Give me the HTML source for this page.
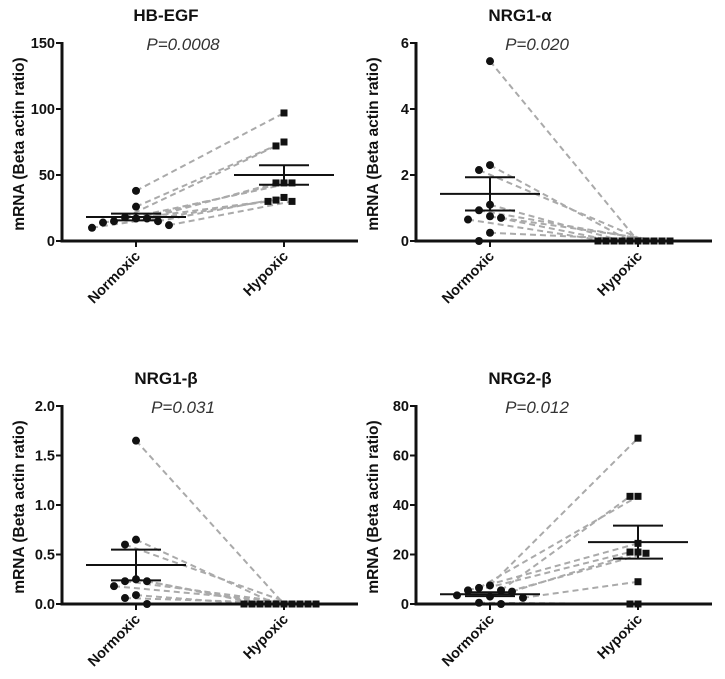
<!DOCTYPE html>
<html><head><meta charset="utf-8"><style>
html,body{margin:0;padding:0;background:#fff;width:725px;height:679px;overflow:hidden}
svg text{font-family:"Liberation Sans",sans-serif}
</style></head><body>
<svg id="c" width="725" height="679"></svg>
<script>
const categories = ["Normoxic","Hypoxic"];
const titles = ["HB-EGF","NRG1-α","NRG1-β","NRG2-β"];
const pvalues = ["P=0.0008","P=0.020","P=0.031","P=0.012"];
const normHBEGF = [38,26,17,15,14,18,15,17,10,12];
const hypoHBEGF = [97,75,72,44,44,44,31,30,30,33];
const normNRG1a = [5.45,2.3,2.15,1.1,0.93,0.7,0.65,0.75,0.25,0];
const hypoNRG1a = [0,0,0,0,0,0,0,0,0,0];
const normNRG1b = [1.65,0.65,0.6,0.25,0.23,0.23,0.18,0.09,0.06,0];
const hypoNRG1b = [0,0,0,0,0,0,0,0,0,0];
const normNRG2b = [6.5,5.5,5,5.5,7.5,3.5,3,2.5,0,0.5];
const hypoNRG2b = [67,43.5,43.5,24.5,21,20.5,21,9,0,0];
const ticksHBEGF = ["0","50","100","150"];
const ticksNRG1a = ["0","2","4","6"];
const ticksNRG1b = ["0.0","0.5","1.0","1.5","2.0"];
const ticksNRG2b = ["0","20","40","60","80"];

const NS="http://www.w3.org/2000/svg";
const svg=document.getElementById('c');
function mk(tag,attrs,parent){const e=document.createElementNS(NS,tag);for(const k in attrs)e.setAttribute(k,attrs[k]);(parent||svg).appendChild(e);return e;}

const panels=[
 {ox:0,oy:0,norm:normHBEGF,hypo:hypoHBEGF,ticks:ticksHBEGF},
 {ox:354,oy:0,norm:normNRG1a,hypo:hypoNRG1a,ticks:ticksNRG1a},
 {ox:0,oy:363,norm:normNRG1b,hypo:hypoNRG1b,ticks:ticksNRG1b},
 {ox:354,oy:363,norm:normNRG2b,hypo:hypoNRG2b,ticks:ticksNRG2b}
];

function swarm(vals,yf,d){
 const idx=vals.map((v,i)=>i).sort((a,b)=>vals[b]-vals[a]);
 const placed=[];const off=new Array(vals.length).fill(0);
 const cands=[0];for(let k=1;k<10;k++){cands.push(-k*d);cands.push(k*d);}
 idx.forEach(i=>{const y=yf(vals[i]);
  for(const c of cands){if(placed.every(p=>Math.abs(p.x-c)>=d-0.1||Math.abs(p.y-y)>=d-0.1)){off[i]=c;placed.push({x:c,y:y});break;}}});
 return off;
}
function stats(v){const m=v.reduce((a,b)=>a+b,0)/v.length;const sd=Math.sqrt(v.reduce((a,b)=>a+(b-m)**2,0)/(v.length-1));return {m,se:sd/Math.sqrt(v.length)};}

panels.forEach((p,pi)=>{
 const g=mk('g',{transform:`translate(${p.ox},${p.oy})`});
 
 
 const ax=62, y0=241, y1=43, xend=358;
 const ymax=parseFloat(p.ticks[p.ticks.length-1]);
 const Y=v=>y0-(v/ymax)*(y0-y1);
 const X=i=>i===0?136:284;
 const t=mk('text',{x:166,y:21,'text-anchor':'middle','font-size':'17','font-weight':'bold',fill:'#111'},g);t.textContent=titles[pi];
 
 const pv=mk('text',{x:183,y:50,'text-anchor':'middle','font-size':'17','font-style':'italic',fill:'#333'},g);pv.textContent=pvalues[pi];
 
 const yt=mk('text',{transform:`translate(24,${(y0+y1)/2+2}) rotate(-90)`,'text-anchor':'middle','font-size':'15.5','font-weight':'bold',fill:'#111'},g);yt.textContent='mRNA (Beta actin ratio)';
 
 const sn=[...p.norm].map((v,i)=>i).sort((a,b)=>p.norm[b]-p.norm[a]);
 const sh=[...p.hypo].map((v,i)=>i).sort((a,b)=>p.hypo[b]-p.hypo[a]);
 const on=swarm(p.norm,Y,11), oh=swarm(p.hypo,Y,8);
 sn.forEach((ni,k)=>{const hi=sh[k];
  const l=mk('line',{x1:X(0)+on[ni],y1:Y(p.norm[ni]),x2:X(1)+oh[hi],y2:Y(p.hypo[hi]),stroke:'#aaa','stroke-width':2,'stroke-dasharray':'6,4'},g);
  });
 const ya=mk('line',{x1:ax,y1:y1-1,x2:ax,y2:y0+1.5,stroke:'#111','stroke-width':3},g);
 
 const xa=mk('line',{x1:ax-1.5,y1:y0,x2:xend,y2:y0,stroke:'#111','stroke-width':3},g);
 
 p.ticks.forEach(tl=>{const v=parseFloat(tl);const yy=Y(v);
  mk('line',{x1:ax-6,y1:yy,x2:ax,y2:yy,stroke:'#111','stroke-width':2},g);
  const tt=mk('text',{x:ax-7,y:yy+5,'text-anchor':'end','font-size':'14.5','font-weight':'bold',fill:'#111'},g);tt.textContent=tl;
  });
 categories.forEach((c,i)=>{
  mk('line',{x1:X(i),y1:y0,x2:X(i),y2:y0+6,stroke:'#111','stroke-width':2},g);
  const ct=mk('text',{transform:`translate(${X(i)+5},${y0+16}) rotate(-45)`,'text-anchor':'end','font-size':'14.5','font-weight':'bold',fill:'#111'},g);ct.textContent=c;
  });
 p.norm.forEach((v,i)=>{const c=mk('circle',{cx:X(0)+on[i],cy:Y(v),r:4,fill:'#111'},g);
  });
 p.hypo.forEach((v,i)=>{const r=mk('rect',{x:X(1)+oh[i]-3.5,y:Y(v)-3.5,width:7,height:7,fill:'#111'},g);
  });
 [p.norm,p.hypo].forEach((vals,i)=>{const s=stats(vals);const cx=X(i);
  const gg=mk('g',{stroke:'#111','stroke-width':2},g);
  
  mk('line',{x1:cx-50,y1:Y(s.m),x2:cx+50,y2:Y(s.m)},gg);
  if(s.se>0){mk('line',{x1:cx,y1:Y(s.m+s.se),x2:cx,y2:Y(s.m-s.se)},gg);
  mk('line',{x1:cx-25,y1:Y(s.m+s.se),x2:cx+25,y2:Y(s.m+s.se)},gg);
  mk('line',{x1:cx-25,y1:Y(s.m-s.se),x2:cx+25,y2:Y(s.m-s.se)},gg);}
 });
});
</script>
</body></html>
